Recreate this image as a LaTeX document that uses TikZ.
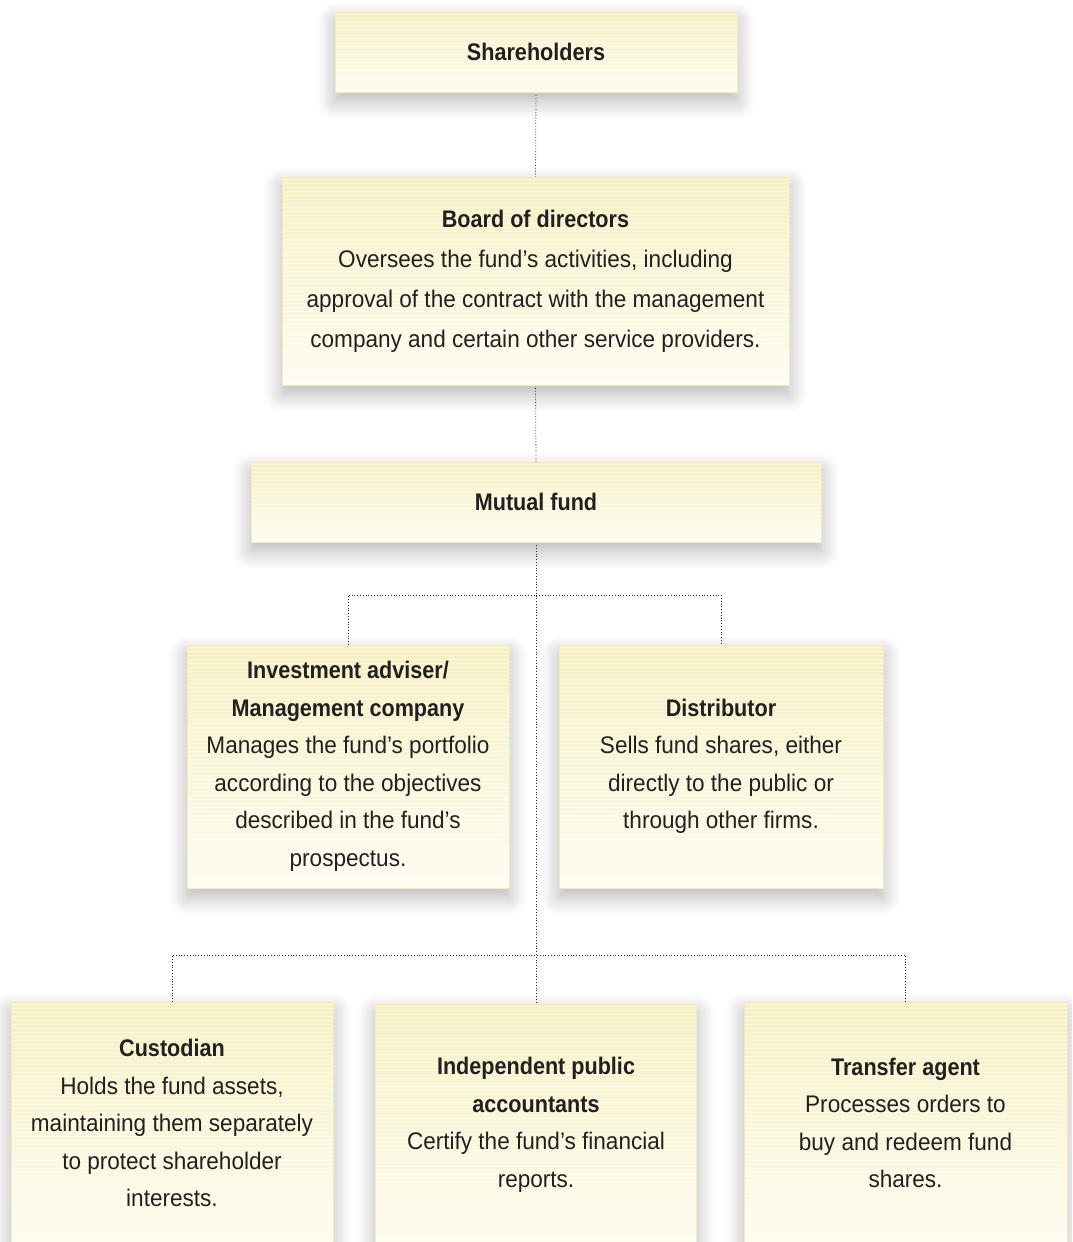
\documentclass[tikz,border=0pt]{standalone}
\usepackage{fontspec}
\setmainfont{Liberation Sans}[FakeStretch=0.94, BoldFeatures={FakeStretch=0.9}]
\usetikzlibrary{shadows.blur,backgrounds}
\definecolor{txt}{HTML}{231F20}
\definecolor{boxtop}{HTML}{F6F0C2}
\definecolor{boxbot}{HTML}{FEFCF0}
\definecolor{boxline}{HTML}{F2ECBC}
\tikzset{
  card/.style={draw=boxline, line width=0.6pt, top color=boxtop, bottom color=boxbot,
    blur shadow={shadow xshift=0pt, shadow yshift=-9pt, shadow blur radius=18pt,
      shadow blur steps=12, shadow opacity=30, shadow scale=1.0},
    inner sep=0pt, align=center, text=txt, anchor=center,
    path picture={\foreach \k in {2,6,...,250}{\draw[white,opacity=0.45,line width=0.7pt]
      ([yshift=-\k pt]path picture bounding box.north west) -- ([yshift=-\k pt]path picture bounding box.north east);}}},
  wide/.style={font=\fontsize{24}{40}\selectfont},
  tight/.style={font=\fontsize{24}{37.5}\selectfont},
  link/.style={dotted, line width=0.8pt, draw=black!85}
}
\begin{document}
\begin{tikzpicture}[x=1pt,y=-1pt]
\useasboundingbox (0,0) rectangle (1072,1242);
\clip (0,0) rectangle (1072,1242);
\node[card, wide, minimum width=402, minimum height=80] (sh) at (536,52) {\textbf{Shareholders}};
\node[card, wide, minimum width=507, minimum height=208] (bd) at (535.5,281)
  {\textbf{Board of directors}\\Oversees the fund’s activities, including\\approval of the contract with the management\\company and certain other service providers.};
\node[card, wide, minimum width=570, minimum height=80] (mf) at (536,502) {\textbf{Mutual fund}};
\node[card, tight, minimum width=322, minimum height=243] (adv) at (348,766.5)
  {\textbf{Investment adviser/}\\\textbf{Management company}\\Manages the fund’s portfolio\\according to the objectives\\described in the fund’s\\prospectus.};
\node[card, tight, minimum width=324, minimum height=243] (dist) at (721,766.5)
  {\textbf{Distributor}\\Sells fund shares, either\\directly to the public or\\through other firms.};
\node[card, tight, minimum width=322, minimum height=242] (cus) at (172,1123)
  {\textbf{Custodian}\\Holds the fund assets,\\maintaining them separately\\to protect shareholder\\interests.};
\node[card, tight, minimum width=321, minimum height=242] (ind) at (536,1125)
  {\textbf{Independent public}\\\textbf{accountants}\\Certify the fund’s financial\\reports.};
\node[card, tight, minimum width=323, minimum height=242] (tra) at (905.5,1123)
  {\textbf{Transfer agent}\\Processes orders to\\buy and redeem fund\\shares.};
\coordinate (j1) at (536,595);
\coordinate (j2) at (536,955);
\begin{scope}[on background layer]
  \draw[link] (sh.south) -- (bd.north);
  \draw[link] (bd.south) -- (mf.north);
  \draw[link] (mf.south) -- (j1) -- (j2) -- (ind.north);
  \draw[link] (adv.north) |- (j1) -| (dist.north);
  \draw[link] (cus.north) |- (j2) -| (tra.north);
\end{scope}
\end{tikzpicture}
\end{document}
